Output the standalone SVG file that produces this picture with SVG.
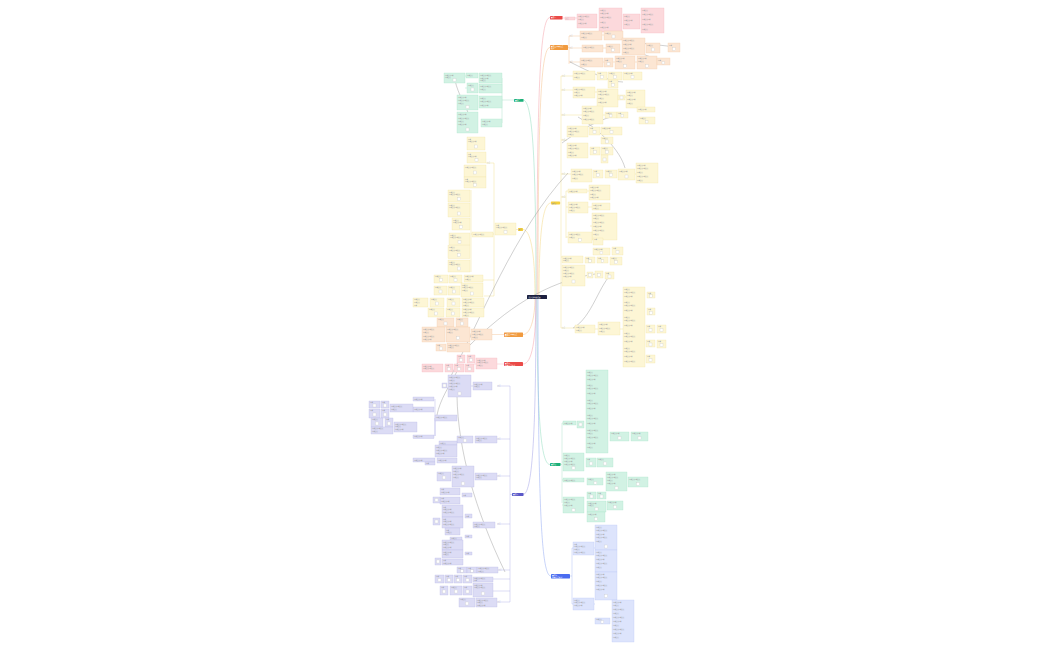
<svg xmlns="http://www.w3.org/2000/svg" width="1050" height="650" viewBox="0 0 1050 650">
<style>
.bg{fill:#fff}
rect{stroke-width:.3}
.r{fill:#fcd9dc;stroke:#f3b3ba}
.o{fill:#fce6d3;stroke:#f2c9a5}
.y{fill:#fdf6d5;stroke:#f0e0a0}
.g{fill:#d2f2e4;stroke:#a6e0c6}
.p{fill:#dcdcf5;stroke:#b5b5e4}
.b{fill:#dde4fc;stroke:#b6c4f4}
.ic{fill:#fff;stroke:#c8c8c8}
text{font-family:"Liberation Sans","Noto Sans CJK SC",sans-serif}
.t{font-size:1.4px;fill:#9a9a9a}
.w{font-size:1.7px;fill:#fff}
.lb{font-size:1.4px;fill:#9a9a9a}
.c{fill:none;stroke-width:.5}
.k{fill:none;stroke:#8a8a8a;stroke-width:.4}
.ty{fill:none;stroke:#f0da80;stroke-width:.4}
.tg{fill:none;stroke:#9fdcc0;stroke-width:.4}
.tr{fill:none;stroke:#f4a8b0;stroke-width:.4}
.to{fill:none;stroke:#f2be8c;stroke-width:.4}
.tp{fill:none;stroke:#a8a8e6;stroke-width:.4}
.tb{fill:none;stroke:#9fb2f2;stroke-width:.4}
</style>
<rect class="bg" width="1050" height="650"/>
<g id="connectors">
<path class="c" stroke="#f4a0a8" d="M537,297 C537,90 540,17.5 550,17.5"/>
<path class="c" stroke="#f5c08a" d="M538,297 C538,110 541,47.5 550,47.5"/>
<path class="c" stroke="#8fdcbc" d="M536,297 C536,150 532,100 523,100"/>
<path class="c" stroke="#f2d780" d="M539,297 C539,230 543,203 551,203"/>
<path class="c" stroke="#f2d780" d="M535,297 C535,250 530,229.5 523,229.5"/>
<path class="c" stroke="#f5c08a" d="M535,297 C535,320 530,334.5 523,334.5"/>
<path class="c" stroke="#f4a0a8" d="M536,297 C536,340 532,364 523,364"/>
<path class="c" stroke="#8fdcbc" d="M537,297 C537,420 541,464.5 550,464.5"/>
<path class="c" stroke="#a0a0e6" d="M536,297 C536,440 532,494.5 523,494.5"/>
<path class="c" stroke="#8fa6f2" d="M538,297 C538,520 542,576 551,576"/>
<path class="tr" d="M562,18 H577"/>
<path class="to" d="M568,47.5 H569 M569,36 V64 M569,36 H580 M569,48 H582 M569,62 H580 M602,35 H604 M603,48 H606 M603,62 H615 M635,62 H637"/>
<path class="ty" d="M561,76 V328 M560,203 H561 M561,76 H573 M561,90 H573 M561,115 H582 M561,140 H567 M561,174 H571 M561,197 H566 M566,191 V238 M566,191 H568 M566,207 H568 M566,237 H568 M561,257 H562 M561,328 H575 M595,329 H598 M620,329 H623 M595,92 H597 M618,97 H626 M603,115 H605 M587,191 H589 M588,207 H592 M592,226 H590 M635,174 H636"/>
<path class="tg" d="M514,100 H502 M502,78 V123 M502,100 H479 M502,123 H481 M466,76 H465 M467,88 H465"/>
<path class="ty" d="M518,229.5 H516 M494,163 V296 M494,163 H486 M494,234 H493 M471,190 V272 M471,234 H472 M494,280 H483 M494,296 H484"/>
<path class="to" d="M504,334.5 H492 M471,334 H470"/>
<path class="tr" d="M504,364 H497 M476,364 H474"/>
<path class="tp" d="M512,494.5 H510 M510,386 V602 M497,386 H510 M497,439 H510 M497,476 H510 M497,524 H510 M498,570 H510 M493,579 H510 M493,591 H510 M497,602 H510 M473,386 H471 M435,418 V436 M435,399 V436"/>
<path class="tg" d="M560,464.5 H562 M562,423 V503 M562,423 H563 M562,462 H563 M562,480 H563 M562,505 H563"/>
<path class="tb" d="M570,576 H572 M572,548 V604 M572,548 H573 M572,604 H573 M594,548 H595 M594,604 H595"/>
<path class="k" d="M450,378 C480,320 515,230 568,173"/>
<path class="k" d="M470,345 C505,310 545,282 595,274"/>
<path class="k" d="M573,328 C592,318 600,282 613,273"/>
<path class="k" d="M457,396 C458,450 475,510 505,572"/>
<path class="k" d="M460,366 C448,388 440,400 437,415"/>
<path class="k" d="M455,80 C458,95 466,105 470,118"/>
<path class="k" d="M617,38 C640,45 660,44 680,48"/>
<path class="k" d="M635,50 C650,58 660,60 670,62"/>
<path class="k" d="M570,62 C590,72 610,82 623,82"/>
<path class="k" d="M578,117 C600,130 620,150 625,168"/>
<path class="k" d="M562,143 C580,130 600,118 623,114"/>
</g>
<g id="central"><rect x="527" y="295" width="20" height="4" fill="#1c1f3f" rx=".5"/><text class="w" x="528.5" y="297.6">知识结构总览图</text></g>
<g id="br-red-top"><rect x="550" y="16" width="12.5" height="3.5" fill="#ea4a48" rx=".4"/><text class="w" x="551" y="18.4">章节一</text></g>
<g id="br-orange-top"><rect x="550" y="45" width="18" height="5" fill="#f19a3e" rx=".4"/><text class="w" x="551" y="47.2">章节二 内容要点</text><text class="w" x="551" y="49.2">概述</text></g>
<g id="br-green-top"><rect x="514" y="99" width="9.5" height="2.8" fill="#1bb07a" rx=".4"/><text class="w" x="515" y="100.9">章节三</text></g>
<g id="br-yellow-right"><rect x="551" y="201.5" width="9" height="3" fill="#f5cf3c" rx=".4"/><text class="t" x="552" y="203.5">章节四</text></g>
<g id="br-yellow-left"><rect x="518" y="228" width="5" height="3" fill="#f5cf3c" rx=".4"/><text class="t" x="518.5" y="230">章节</text></g>
<g id="br-orange-left"><rect x="504" y="332.5" width="19" height="4.5" fill="#f19a3e" rx=".4"/><text class="w" x="505" y="334.5">章节五 内容要点</text><text class="w" x="505" y="336.3">概述</text></g>
<g id="br-red-left"><rect x="504" y="362" width="19" height="4" fill="#ea4a48" rx=".4"/><text class="w" x="505" y="363.8">章节六</text><text class="w" x="505" y="365.6">内容要点概述</text></g>
<g id="br-green-right"><rect x="550" y="463" width="10.5" height="3" fill="#1bb07a" rx=".4"/><text class="w" x="551" y="465">章节七</text></g>
<g id="br-purple"><rect x="512" y="493" width="11.5" height="3" fill="#5a58c8" rx=".4"/><text class="w" x="513" y="495">章节八</text></g>
<g id="br-blue-right"><rect x="551" y="574" width="19" height="4.5" fill="#4a6cf0" rx=".4"/><text class="w" x="552" y="576">章节九</text><text class="w" x="552" y="577.9">内容要点概述</text></g>

<g id="red-top-nodes">
<g id="r1"><rect class="r" x="565" y="17" width="10" height="3"/><text class="t" x="565.5" y="19">要点</text></g>
<g id="r2"><rect class="r" x="577" y="14" width="20" height="14"/><text class="t" x="578" y="17">内容说明内容说明</text><text class="t" x="578" y="20">内容说明</text><text class="t" x="578" y="24">内容说明内容</text></g>
<g id="r3"><rect class="r" x="599" y="8" width="23" height="24"/><text class="t" x="600" y="11">内容说明</text><text class="t" x="600" y="14">内容说明内容</text><text class="t" x="600" y="18">内容说明内容说明</text><text class="t" x="600" y="23">内容说明</text><text class="t" x="600" y="28">内容说明内容</text></g>
<g id="r4"><rect class="r" x="623" y="14" width="17" height="15"/><text class="t" x="624" y="17">内容说明</text><text class="t" x="624" y="21">内容说明内容</text><text class="t" x="624" y="25">内容说明</text></g>
<g id="r5"><rect class="r" x="641" y="8" width="23" height="25"/><text class="t" x="642" y="11">内容说明</text><text class="t" x="642" y="15">内容说明内容说明</text><text class="t" x="642" y="20">内容说明内容</text><text class="t" x="642" y="25">内容说明内容说明</text><text class="t" x="642" y="30">内容说明</text></g>
</g>

<g id="orange-top-nodes">
<text class="lb" x="569.5" y="35.5">要点</text><text class="lb" x="569.5" y="47.5">要点</text><text class="lb" x="569.5" y="61.5">要点</text>
<g id="o1"><rect class="o" x="580" y="31" width="22" height="9"/><text class="t" x="581" y="34">内容说明内容说明</text><text class="t" x="581" y="37.5">内容说明</text></g>
<g id="o2"><rect class="o" x="604" y="31" width="19" height="9"/><text class="t" x="605" y="33.5">内容说明</text><rect class="ic" x="612" y="35" width="3" height="3"/></g>
<g id="o3"><rect class="o" x="622" y="38" width="23" height="17"/><text class="t" x="623" y="41">内容说明内容说明</text><text class="t" x="623" y="45">内容说明内容</text><text class="t" x="623" y="49">内容说明内容说明</text><text class="t" x="623" y="53">内容说明</text></g>
<g id="o4"><rect class="o" x="646" y="43" width="14" height="10"/><text class="t" x="647" y="45.5">内容说明</text><rect class="ic" x="651.5" y="48" width="3" height="3"/></g>
<g id="o5"><rect class="o" x="668" y="43" width="12" height="9"/><text class="t" x="669" y="45.5">内容</text><rect class="ic" x="672.5" y="47.5" width="3" height="3"/></g>
<g id="o6"><rect class="o" x="582" y="45" width="21" height="7"/><text class="t" x="583" y="48">内容说明内容说明</text></g>
<g id="o7"><rect class="o" x="606" y="44" width="14" height="9"/><text class="t" x="607" y="46.5">内容说明</text><rect class="ic" x="611.5" y="48.5" width="3" height="3"/></g>
<g id="o8"><rect class="o" x="580" y="58" width="23" height="9"/><text class="t" x="581" y="61">内容说明内容说明</text><text class="t" x="581" y="64.5">内容说明</text></g>
<g id="o9"><rect class="o" x="604" y="58" width="9" height="9"/><text class="t" x="605" y="60.5">内容</text><rect class="ic" x="607" y="62.5" width="3" height="3"/></g>
<g id="o10"><rect class="o" x="615" y="56" width="20" height="13"/><text class="t" x="616" y="59">内容说明内容</text><text class="t" x="616" y="62">内容说明</text><rect class="ic" x="623.5" y="64.5" width="3" height="3"/></g>
<g id="o11"><rect class="o" x="637" y="56" width="20" height="13"/><text class="t" x="638" y="59">内容说明内容</text><text class="t" x="638" y="62">内容说明</text><rect class="ic" x="645.5" y="64.5" width="3" height="3"/></g>
<g id="o12"><rect class="o" x="657" y="58" width="13" height="7"/><text class="t" x="658" y="60.5">内容</text><rect class="ic" x="662" y="61.5" width="2.5" height="2.5"/></g>
</g>

<g id="yellow-right-nodes">
<text class="lb" x="562" y="75.5">要点</text><text class="lb" x="562" y="89.5">要点</text><text class="lb" x="562" y="114.5">要点</text><text class="lb" x="562" y="139.5">要点</text><text class="lb" x="562" y="173.5">要点</text><text class="lb" x="562" y="196.5">要点</text><text class="lb" x="562" y="327.5">要点</text>
<g id="y1"><rect class="y" x="573" y="71" width="22" height="9"/><text class="t" x="574" y="74">内容说明内容说明</text><text class="t" x="574" y="77.5">内容说明</text></g>
<g id="y2"><rect class="y" x="597" y="72" width="10" height="8"/><text class="t" x="598" y="74.3">内容</text><rect class="ic" x="600.5" y="75.5" width="3" height="3"/></g>
<g id="y3"><rect class="y" x="608" y="72" width="14" height="8"/><text class="t" x="609" y="74.3">内容说明</text><rect class="ic" x="613.5" y="75.5" width="3" height="3"/></g>
<g id="y4"><rect class="y" x="623" y="72" width="19" height="8"/><text class="t" x="624" y="74.3">内容说明内容</text><rect class="ic" x="631" y="75.5" width="3" height="3"/></g>
<g id="y5"><rect class="y" x="573" y="87" width="22" height="11"/><text class="t" x="574" y="90">内容说明内容说明</text><text class="t" x="574" y="93">内容说明</text><text class="t" x="574" y="96">内容说明内容</text></g>
<g id="y6"><rect class="y" x="608" y="80" width="10" height="8"/><text class="t" x="609" y="82.3">内容</text><rect class="ic" x="611.5" y="83.5" width="3" height="3"/></g>
<g id="y7"><rect class="y" x="597" y="89" width="21" height="18"/><text class="t" x="598" y="92">内容说明内容</text><text class="t" x="598" y="95">内容说明内容说明</text><text class="t" x="598" y="99">内容说明</text><text class="t" x="598" y="103">内容说明内容</text></g>
<g id="y8"><rect class="y" x="618" y="95" width="7" height="5"/><rect class="ic" x="620" y="96" width="3" height="3"/></g>
<g id="y9"><rect class="y" x="626" y="90" width="19" height="18"/><text class="t" x="627" y="93">内容说明内容</text><text class="t" x="627" y="96">内容说明</text><text class="t" x="627" y="100">内容说明内容</text><text class="t" x="627" y="104">内容说明</text></g>
<g id="y10"><rect class="y" x="582" y="106" width="21" height="18"/><text class="t" x="583" y="109">内容说明内容</text><text class="t" x="583" y="112">内容说明内容说明</text><text class="t" x="583" y="116">内容说明</text><text class="t" x="583" y="120">内容说明内容说明</text></g>
<g id="y11"><rect class="y" x="605" y="112" width="12" height="6"/><text class="t" x="606" y="114">内容说明</text><rect class="ic" x="609.5" y="114.5" width="2.5" height="2.5"/></g>
<g id="y12"><rect class="y" x="617" y="112" width="11" height="6"/><text class="t" x="618" y="114">内容</text><rect class="ic" x="621" y="114.5" width="2.5" height="2.5"/></g>
<g id="y13"><rect class="y" x="637" y="107" width="18" height="5"/><text class="t" x="638" y="110">内容说明内容</text></g>
<g id="y14"><rect class="y" x="639" y="117" width="16" height="7"/><text class="t" x="640" y="119.3">内容说明</text><rect class="ic" x="645.5" y="120.5" width="2.5" height="2.5"/></g>
<g id="y15"><rect class="y" x="567" y="126" width="21" height="11"/><text class="t" x="568" y="129">内容说明内容</text><text class="t" x="568" y="132">内容说明内容说明</text><text class="t" x="568" y="135">内容说明</text></g>
<g id="y16"><rect class="y" x="589" y="127" width="11" height="8"/><text class="t" x="590" y="129.3">内容</text><rect class="ic" x="593" y="130.5" width="3" height="3"/></g>
<g id="y17"><rect class="y" x="601" y="127" width="21" height="8"/><text class="t" x="602" y="129.3">内容说明内容</text><rect class="ic" x="610" y="130.5" width="3" height="3"/></g>
<g id="y18"><rect class="y" x="567" y="143" width="21" height="15"/><text class="t" x="568" y="146">内容说明内容</text><text class="t" x="568" y="149">内容说明内容说明</text><text class="t" x="568" y="153">内容说明</text><text class="t" x="568" y="156">内容说明内容</text></g>
<g id="y19"><rect class="y" x="590" y="147" width="10" height="8"/><text class="t" x="591" y="149.3">内容</text><rect class="ic" x="593.5" y="150.5" width="3" height="3"/></g>
<g id="y20"><rect class="y" x="601" y="137" width="12" height="7"/><text class="t" x="602" y="139.3">内容说明</text><rect class="ic" x="605.5" y="140" width="3" height="3"/></g>
<g id="y21"><rect class="y" x="601" y="147" width="12" height="8"/><text class="t" x="602" y="149.3">内容说明</text><rect class="ic" x="605.5" y="150.5" width="3" height="3"/></g>
<g id="y22"><rect class="y" x="601" y="155" width="7" height="8"/><rect class="ic" x="603" y="158" width="3" height="3"/></g>
<g id="y23"><rect class="y" x="571" y="169" width="21" height="13"/><text class="t" x="572" y="172">内容说明内容</text><text class="t" x="572" y="175">内容说明内容说明</text><text class="t" x="572" y="179">内容说明</text></g>
<g id="y24"><rect class="y" x="593" y="170" width="10" height="8"/><text class="t" x="594" y="172.3">内容</text><rect class="ic" x="596.5" y="173.5" width="3" height="3"/></g>
<g id="y25"><rect class="y" x="605" y="170" width="12" height="8"/><text class="t" x="606" y="172.3">内容说明</text><rect class="ic" x="609.5" y="173.5" width="3" height="3"/></g>
<g id="y26"><rect class="y" x="618" y="169" width="17" height="11"/><text class="t" x="619" y="171.5">内容说明内容</text><rect class="ic" x="625" y="175" width="3" height="3"/></g>
<g id="y27"><rect class="y" x="636" y="163" width="22" height="20"/><text class="t" x="637" y="166">内容说明内容</text><text class="t" x="637" y="169">内容说明内容说明</text><text class="t" x="637" y="173">内容说明</text><text class="t" x="637" y="177">内容说明内容说明</text><text class="t" x="637" y="181">内容说明</text></g>
<g id="y28"><rect class="y" x="568" y="189" width="19" height="4"/><text class="t" x="569" y="191.7">内容说明内容</text></g>
<g id="y29"><rect class="y" x="589" y="185" width="21" height="15"/><text class="t" x="590" y="188">内容说明内容</text><text class="t" x="590" y="191">内容说明内容说明</text><text class="t" x="590" y="195">内容说明</text><text class="t" x="590" y="198">内容说明内容</text></g>
<g id="y30"><rect class="y" x="568" y="202" width="20" height="11"/><text class="t" x="569" y="205">内容说明内容</text><text class="t" x="569" y="208">内容说明内容说明</text><text class="t" x="569" y="211">内容说明</text></g>
<g id="y31"><rect class="y" x="592" y="203" width="18" height="7"/><text class="t" x="593" y="206">内容说明内容</text><text class="t" x="593" y="208.5">内容说明</text></g>
<g id="y32"><rect class="y" x="592" y="213" width="25" height="27"/><text class="t" x="593" y="216">内容说明内容说明</text><text class="t" x="593" y="219">内容说明</text><text class="t" x="593" y="223">内容说明内容说明</text><text class="t" x="593" y="227">内容说明内容</text><text class="t" x="593" y="231">内容说明内容说明</text><text class="t" x="593" y="235">内容说明</text></g>
<g id="y33"><rect class="y" x="568" y="232" width="24" height="11"/><text class="t" x="569" y="235">内容说明内容说明</text><text class="t" x="569" y="237.5">内容说明</text><rect class="ic" x="578.5" y="238.5" width="3" height="3"/></g>
<g id="y34"><rect class="y" x="593" y="238" width="10" height="7"/><text class="t" x="594" y="240.3">内容</text></g>
<g id="y35"><rect class="y" x="593" y="248" width="17" height="7"/><text class="t" x="594" y="250.3">内容说明内容</text><rect class="ic" x="600" y="251.3" width="2.7" height="2.7"/></g>
<g id="y36"><rect class="y" x="612" y="247" width="11" height="8"/><text class="t" x="613" y="249.3">内容</text><rect class="ic" x="616" y="250.5" width="3" height="3"/></g>
<g id="y37"><rect class="y" x="562" y="256" width="21" height="7"/><text class="t" x="563" y="258.5">内容说明内容</text><text class="t" x="563" y="261.3">内容说明</text></g>
<g id="y38"><rect class="y" x="585" y="257" width="10" height="6"/><text class="t" x="586" y="259.2">内容</text><rect class="ic" x="588.7" y="259.8" width="2.5" height="2.5"/></g>
<g id="y39"><rect class="y" x="597" y="257" width="11" height="6"/><text class="t" x="598" y="259.2">内容</text><rect class="ic" x="601.2" y="259.8" width="2.5" height="2.5"/></g>
<g id="y40"><rect class="y" x="610" y="257" width="12" height="8"/><text class="t" x="611" y="259.3">内容说明</text><rect class="ic" x="614.5" y="260.8" width="3" height="3"/></g>
<g id="y41"><rect class="y" x="562" y="265" width="23" height="21"/><text class="t" x="563" y="268">内容说明内容说明</text><text class="t" x="563" y="271">内容说明</text><text class="t" x="563" y="274">内容说明内容说明</text><text class="t" x="563" y="277">内容说明内容</text><rect class="ic" x="572" y="280" width="3" height="3"/></g>
<g id="y42"><rect class="y" x="587" y="272" width="6" height="6"/><rect class="ic" x="588.5" y="273.5" width="3" height="3"/></g>
<g id="y43"><rect class="y" x="595" y="271" width="8" height="7"/><rect class="ic" x="597.5" y="273.5" width="3" height="3"/></g>
<g id="y44"><rect class="y" x="605" y="272" width="9" height="7"/><text class="t" x="606" y="274">内容</text><rect class="ic" x="608" y="275" width="3" height="3"/></g>
<g id="y45"><rect class="y" x="575" y="325" width="20" height="8"/><text class="t" x="576" y="328">内容说明内容</text><text class="t" x="576" y="331">内容说明</text></g>
<g id="y46"><rect class="y" x="598" y="322" width="22" height="13"/><text class="t" x="599" y="325">内容说明内容</text><text class="t" x="599" y="328.5">内容说明内容说明</text><text class="t" x="599" y="332">内容说明</text></g>
<g id="y47"><rect class="y" x="623" y="287" width="22" height="80"/><text class="t" x="624" y="290">内容说明</text><text class="t" x="624" y="293">内容说明内容说明</text><text class="t" x="624" y="297">内容说明内容</text><text class="t" x="624" y="303">内容说明</text><text class="t" x="624" y="306">内容说明内容说明</text><text class="t" x="624" y="311">内容说明内容</text><text class="t" x="624" y="318">内容说明</text><text class="t" x="624" y="321">内容说明内容说明</text><text class="t" x="624" y="326">内容说明内容</text><text class="t" x="624" y="334">内容说明</text><text class="t" x="624" y="337">内容说明内容说明</text><text class="t" x="624" y="342">内容说明内容</text><text class="t" x="624" y="349">内容说明</text><text class="t" x="624" y="352">内容说明内容说明</text><text class="t" x="624" y="357">内容说明内容</text><text class="t" x="624" y="362">内容说明内容说明</text></g>
<g id="y48"><rect class="y" x="647" y="292" width="8" height="6"/><text class="t" x="648" y="294">内容</text><rect class="ic" x="649.7" y="294.8" width="2.5" height="2.5"/></g>
<g id="y49"><rect class="y" x="647" y="308" width="8" height="7"/><text class="t" x="648" y="310">内容</text><rect class="ic" x="649.5" y="311.3" width="3" height="3"/></g>
<g id="y50"><rect class="y" x="646" y="325" width="9" height="8"/><text class="t" x="647" y="327">内容</text><rect class="ic" x="649" y="328.5" width="3" height="3"/></g>
<g id="y51"><rect class="y" x="657" y="325" width="9" height="8"/><text class="t" x="658" y="327">内容</text><rect class="ic" x="660" y="328.5" width="3" height="3"/></g>
<g id="y52"><rect class="y" x="646" y="340" width="9" height="7"/><text class="t" x="647" y="342">内容</text><rect class="ic" x="649" y="343" width="3" height="3"/></g>
<g id="y53"><rect class="y" x="657" y="340" width="9" height="8"/><text class="t" x="658" y="342">内容</text><rect class="ic" x="660" y="343.5" width="3" height="3"/></g>
<g id="y54"><rect class="y" x="646" y="355" width="9" height="8"/><text class="t" x="647" y="357">内容</text><rect class="ic" x="649" y="358.5" width="3" height="3"/></g>
</g>

<g id="green-top-nodes">
<g id="g1"><rect class="g" x="444" y="73" width="21" height="10"/><text class="t" x="445" y="75.5">内容说明内容</text><text class="t" x="445" y="78">内容说明</text><rect class="ic" x="453" y="78.5" width="3" height="3"/></g>
<g id="g2"><rect class="g" x="466" y="73" width="12" height="5"/><text class="t" x="467" y="75.5">内容说明</text></g>
<g id="g3"><rect class="g" x="467" y="83" width="11" height="10"/><text class="t" x="468" y="85.5">内容说明</text><rect class="ic" x="471" y="88" width="3" height="3"/></g>
<g id="g4"><rect class="g" x="479" y="73" width="23" height="10"/><text class="t" x="480" y="75.5">内容说明内容说明</text><text class="t" x="480" y="78.5">内容说明内容</text><text class="t" x="480" y="81.3">内容说明</text></g>
<g id="g5"><rect class="g" x="479" y="84" width="23" height="9"/><text class="t" x="480" y="86.5">内容说明内容说明</text><text class="t" x="480" y="89.5">内容说明</text></g>
<g id="g6"><rect class="g" x="457" y="95" width="21" height="15"/><text class="t" x="458" y="98">内容说明内容</text><text class="t" x="458" y="101">内容说明内容说明</text><text class="t" x="458" y="104">内容说明</text><rect class="ic" x="466" y="105.5" width="3" height="3"/></g>
<g id="g7"><rect class="g" x="479" y="96" width="23" height="12"/><text class="t" x="480" y="99">内容说明</text><text class="t" x="480" y="102">内容说明内容说明</text><text class="t" x="480" y="105.5">内容说明内容</text></g>
<g id="g8"><rect class="g" x="457" y="112" width="21" height="21"/><text class="t" x="458" y="115">内容说明内容</text><text class="t" x="458" y="118.5">内容说明内容说明</text><text class="t" x="458" y="122">内容说明</text><text class="t" x="458" y="125">内容说明内容</text><rect class="ic" x="466" y="128" width="3" height="3"/></g>
<g id="g9"><rect class="g" x="481" y="119" width="21" height="8"/><text class="t" x="482" y="121.5">内容说明内容</text><text class="t" x="482" y="124.5">内容说明</text></g>
</g>

<g id="yellow-left-nodes">
<text class="lb" x="487" y="162.5">要点</text>
<g id="a1"><rect class="y" x="467" y="137" width="18" height="13"/><text class="t" x="468" y="139.5">内容</text><text class="t" x="468" y="142">内容说明内容</text><rect class="ic" x="474.5" y="145" width="3" height="3"/></g>
<g id="a2"><rect class="y" x="467" y="152" width="19" height="11"/><text class="t" x="468" y="154.5">内容</text><text class="t" x="468" y="157">内容说明内容</text><rect class="ic" x="475" y="158.5" width="3" height="3"/></g>
<g id="a3"><rect class="y" x="464" y="165" width="22" height="12"/><text class="t" x="465" y="167.5">内容说明内容说明</text><rect class="ic" x="473.5" y="171" width="3" height="3"/></g>
<g id="a4"><rect class="y" x="464" y="177" width="22" height="11"/><text class="t" x="465" y="179.5">内容</text><text class="t" x="465" y="182">内容说明内容说明</text><rect class="ic" x="473.5" y="183.5" width="3" height="3"/></g>
<g id="b1"><rect class="y" x="448" y="190" width="22" height="12"/><text class="t" x="449" y="192.5">内容说明</text><text class="t" x="449" y="195">内容说明内容说明</text><rect class="ic" x="457.5" y="197.5" width="3" height="3"/></g>
<g id="b2"><rect class="y" x="448" y="203" width="22" height="14"/><text class="t" x="449" y="205.5">内容说明</text><text class="t" x="449" y="208">内容说明内容说明</text><rect class="ic" x="457.5" y="212" width="3" height="3"/></g>
<g id="b3"><rect class="y" x="452" y="218" width="18" height="12"/><text class="t" x="453" y="220.5">内容说明</text><text class="t" x="453" y="223">内容说明内容</text><rect class="ic" x="459.5" y="225.5" width="3" height="3"/></g>
<g id="b4"><rect class="y" x="449" y="233" width="21" height="12"/><text class="t" x="450" y="235.5">内容说明</text><text class="t" x="450" y="238">内容说明内容说明</text><rect class="ic" x="458" y="240.5" width="3" height="3"/></g>
<g id="b5"><rect class="y" x="448" y="245.5" width="22" height="13"/><text class="t" x="449" y="248">内容说明</text><text class="t" x="449" y="250.5">内容说明内容说明</text><rect class="ic" x="457.5" y="253.5" width="3" height="3"/></g>
<g id="b6"><rect class="y" x="448" y="260" width="22" height="12"/><text class="t" x="449" y="262.5">内容说明</text><text class="t" x="449" y="265">内容说明内容说明</text><rect class="ic" x="457.5" y="267" width="3" height="3"/></g>
<g id="lbm"><rect class="y" x="472" y="232" width="21" height="5"/><text class="t" x="473" y="234.5">内容说明内容说明</text></g>
<g id="c1"><rect class="y" x="495" y="223" width="21" height="12"/><text class="t" x="496" y="225.5">内容</text><text class="t" x="496" y="228">内容说明内容说明</text><rect class="ic" x="504" y="230.5" width="3" height="3"/></g>
<g id="d1"><rect class="y" x="434" y="275" width="14" height="8"/><text class="t" x="435" y="277.3">内容说明</text><rect class="ic" x="439.5" y="278.5" width="3" height="3"/></g>
<g id="d2"><rect class="y" x="449" y="275" width="13" height="8"/><text class="t" x="450" y="277.3">内容说明</text><rect class="ic" x="454" y="278.5" width="3" height="3"/></g>
<g id="d3"><rect class="y" x="464" y="275" width="19" height="7"/><text class="t" x="465" y="277.3">内容说明内容</text><text class="t" x="465" y="280">内容说明</text></g>
<g id="d4"><rect class="y" x="434" y="286" width="13" height="9"/><text class="t" x="435" y="288.3">内容说明</text><rect class="ic" x="439" y="290" width="3" height="3"/></g>
<g id="d5"><rect class="y" x="448" y="286" width="12" height="9"/><text class="t" x="449" y="288.3">内容说明</text><rect class="ic" x="452.5" y="290" width="3" height="3"/></g>
<g id="d6"><rect class="y" x="461" y="283" width="22" height="14"/><text class="t" x="462" y="285.5">内容说明</text><text class="t" x="462" y="288">内容说明内容说明</text><text class="t" x="462" y="290.5">内容说明</text><rect class="ic" x="470.5" y="292" width="3" height="3"/></g>
<g id="e1"><rect class="y" x="413" y="298" width="15" height="9"/><text class="t" x="414" y="300.3">内容说明</text><text class="t" x="414" y="303">内容说明</text><text class="t" x="414" y="305.5">内容</text></g>
<g id="e2"><rect class="y" x="430" y="298" width="14" height="9"/><text class="t" x="431" y="300.3">内容说明</text><rect class="ic" x="435.5" y="302" width="3" height="3"/></g>
<g id="e3"><rect class="y" x="447" y="298" width="13" height="9"/><text class="t" x="448" y="300.3">内容说明</text><rect class="ic" x="452" y="302" width="3" height="3"/></g>
<g id="e4"><rect class="y" x="462" y="298" width="22" height="9"/><text class="t" x="463" y="300.3">内容说明内容</text><text class="t" x="463" y="303">内容说明内容说明</text><text class="t" x="463" y="305.6">内容说明</text></g>
<g id="e5"><rect class="y" x="428" y="308" width="16" height="9"/><text class="t" x="429" y="310.3">内容说明</text><rect class="ic" x="434.5" y="312" width="3" height="3"/></g>
<g id="e6"><rect class="y" x="446" y="308" width="14" height="9"/><text class="t" x="447" y="310.3">内容说明</text><rect class="ic" x="451.5" y="312" width="3" height="3"/></g>
<g id="e7"><rect class="y" x="462" y="308" width="22" height="9"/><text class="t" x="463" y="310.3">内容说明内容</text><text class="t" x="463" y="313">内容说明内容说明</text><text class="t" x="463" y="315.6">内容说明</text></g>
</g>

<g id="orange-left-nodes">
<g id="f1"><rect class="o" x="437" y="318" width="17" height="9"/><text class="t" x="438" y="320.3">内容说明</text><rect class="ic" x="444" y="322" width="3" height="3"/></g>
<g id="f2"><rect class="o" x="456" y="318" width="12" height="9"/><text class="t" x="457" y="320.3">内容说明</text><rect class="ic" x="460.5" y="322" width="3" height="3"/></g>
<g id="f3"><rect class="o" x="422" y="327" width="23" height="15"/><text class="t" x="423" y="330">内容说明内容说明</text><text class="t" x="423" y="333">内容说明</text><text class="t" x="423" y="336.5">内容说明内容说明</text><text class="t" x="423" y="340">内容说明内容</text></g>
<g id="f4"><rect class="o" x="446" y="327" width="24" height="15"/><text class="t" x="447" y="330">内容说明内容说明</text><text class="t" x="447" y="333">内容说明</text><rect class="ic" x="456.5" y="336.5" width="3" height="3"/></g>
<g id="f5"><rect class="o" x="471" y="329" width="21" height="11"/><text class="t" x="472" y="332">内容说明内容</text><text class="t" x="472" y="335">内容说明内容说明</text><text class="t" x="472" y="338">内容说明</text></g>
<g id="f6"><rect class="o" x="436" y="344" width="10" height="7"/><text class="t" x="437" y="346.3">内容</text><rect class="ic" x="439.5" y="347" width="3" height="3"/></g>
<g id="f7"><rect class="o" x="447" y="343" width="23" height="9"/><text class="t" x="448" y="345.5">内容说明内容说明</text><text class="t" x="448" y="348.3">内容说明</text></g>
</g>

<g id="red-left-nodes">
<g id="h1"><rect class="r" x="457" y="355" width="8" height="8"/><text class="t" x="458" y="357.2">内容</text><rect class="ic" x="459.5" y="358.5" width="3" height="3"/></g>
<g id="h2"><rect class="r" x="467" y="355" width="8" height="8"/><text class="t" x="468" y="357.2">内容</text><rect class="ic" x="469.5" y="358.5" width="3" height="3"/></g>
<g id="h3"><rect class="r" x="476" y="358" width="21" height="11"/><text class="t" x="477" y="360.5">内容说明内容</text><text class="t" x="477" y="363.3">内容说明内容说明</text><text class="t" x="477" y="366.3">内容说明</text></g>
<g id="h4"><rect class="r" x="422" y="364" width="21" height="8"/><text class="t" x="423" y="366.5">内容说明内容</text><text class="t" x="423" y="369.3">内容说明内容说明</text></g>
<g id="h5"><rect class="r" x="445" y="364" width="8" height="8"/><text class="t" x="446" y="366.2">内容</text><rect class="ic" x="447.5" y="367.5" width="3" height="3"/></g>
<g id="h6"><rect class="r" x="454" y="364" width="10" height="8"/><text class="t" x="455" y="366.2">内容</text><rect class="ic" x="457.5" y="367.5" width="3" height="3"/></g>
<g id="h7"><rect class="r" x="465" y="364" width="9" height="8"/><text class="t" x="466" y="366.2">内容</text><rect class="ic" x="468" y="367.5" width="3" height="3"/></g>
</g>

<g id="purple-nodes">
<text class="lb" x="497.5" y="385.5">要点</text><text class="lb" x="497.5" y="438.5">要点</text><text class="lb" x="497.5" y="475.5">要点</text><text class="lb" x="497.5" y="523.5">要点</text><text class="lb" x="498.5" y="569.5">要点</text><text class="lb" x="497.5" y="601.5">要点</text>
<g id="p1"><rect class="p" x="448" y="375" width="23" height="22"/><text class="t" x="449" y="378">内容说明内容说明</text><text class="t" x="449" y="381">内容说明</text><text class="t" x="449" y="384">内容说明内容说明</text><text class="t" x="449" y="387">内容说明内容</text><text class="t" x="449" y="390">内容说明</text><rect class="ic" x="458" y="392" width="3" height="3"/></g>
<g id="p2"><rect class="p" x="442" y="383" width="5" height="5"/><rect class="ic" x="443" y="384" width="3" height="3"/></g>
<g id="p3"><rect class="p" x="473" y="382" width="19" height="8"/><text class="t" x="474" y="384.5">内容说明内容</text><text class="t" x="474" y="387.3">内容说明</text></g>
<g id="p4"><rect class="p" x="413" y="397" width="21" height="4"/><text class="t" x="414" y="399.6">内容说明内容</text></g>
<g id="p5"><rect class="p" x="413" y="407" width="21" height="5"/><text class="t" x="414" y="409.8">内容说明内容</text></g>
<g id="p6"><rect class="p" x="435" y="415" width="22" height="6"/><text class="t" x="436" y="417.5">内容说明内容说明</text></g>
<g id="p7"><rect class="p" x="413" y="435" width="21" height="3.5"/><text class="t" x="414" y="437.3">内容说明内容</text></g>
<g id="p8"><rect class="p" x="369" y="401" width="11" height="7"/><text class="t" x="370" y="403">内容</text><rect class="ic" x="373" y="404" width="3" height="3"/></g>
<g id="p9"><rect class="p" x="381" y="401" width="8" height="7"/><text class="t" x="382" y="403">内容</text><rect class="ic" x="383.5" y="404" width="3" height="3"/></g>
<g id="p10"><rect class="p" x="390" y="404" width="23" height="8"/><text class="t" x="391" y="406.5">内容说明内容说明</text><text class="t" x="391" y="409.5">内容说明</text></g>
<g id="p11"><rect class="p" x="369" y="409" width="11" height="9"/><text class="t" x="370" y="411">内容</text><rect class="ic" x="373" y="413" width="3" height="3"/></g>
<g id="p12"><rect class="p" x="381" y="409" width="8" height="9"/><text class="t" x="382" y="411">内容</text><rect class="ic" x="383.5" y="413" width="3" height="3"/></g>
<g id="p13"><rect class="p" x="371" y="418" width="12" height="9"/><text class="t" x="372" y="420">内容说明</text><rect class="ic" x="375.5" y="422" width="3" height="3"/></g>
<g id="p14"><rect class="p" x="385" y="418" width="8" height="9"/><text class="t" x="386" y="420">内容</text><rect class="ic" x="387.5" y="422" width="3" height="3"/></g>
<g id="p15"><rect class="p" x="371" y="427" width="22" height="7"/><text class="t" x="372" y="429.3">内容说明内容说明</text><text class="t" x="372" y="432">内容说明</text></g>
<g id="p16"><rect class="p" x="394" y="422" width="23" height="10"/><text class="t" x="395" y="424.5">内容说明内容说明</text><text class="t" x="395" y="427.3">内容说明</text><text class="t" x="395" y="430">内容说明内容</text></g>
<g id="p17"><rect class="p" x="457" y="436" width="16" height="7"/><text class="t" x="458" y="438.3">内容说明</text><rect class="ic" x="463.5" y="439" width="3" height="3"/></g>
<g id="p18"><rect class="p" x="475" y="436" width="22" height="7"/><text class="t" x="476" y="438.5">内容说明内容说明</text><text class="t" x="476" y="441.2">内容说明</text></g>
<g id="p19"><rect class="p" x="439" y="441" width="18" height="4"/><text class="t" x="440" y="443.6">内容说明</text></g>
<g id="p20"><rect class="p" x="435" y="445" width="22" height="12"/><text class="t" x="436" y="448">内容说明</text><text class="t" x="436" y="451">内容说明内容说明</text><text class="t" x="436" y="454">内容说明内容</text></g>
<g id="p21"><rect class="p" x="413" y="458" width="22" height="4"/><text class="t" x="414" y="460.6">内容说明内容</text></g>
<g id="p22"><rect class="p" x="425" y="462" width="10" height="3"/><text class="t" x="426" y="464">内容</text></g>
<g id="p23"><rect class="p" x="437" y="458" width="20" height="5"/><text class="t" x="438" y="460.8">内容说明内容</text></g>
<g id="p24"><rect class="p" x="437" y="472" width="14" height="9"/><text class="t" x="438" y="474.3">内容说明</text><rect class="ic" x="442.5" y="476" width="3" height="3"/></g>
<g id="p25"><rect class="p" x="452" y="466" width="22" height="21"/><text class="t" x="453" y="469">内容说明内容</text><text class="t" x="453" y="472">内容说明</text><text class="t" x="453" y="475">内容说明内容说明</text><text class="t" x="453" y="478">内容说明</text><rect class="ic" x="461.5" y="482" width="3" height="3"/></g>
<g id="p26"><rect class="p" x="475" y="473" width="22" height="7"/><text class="t" x="476" y="475.5">内容说明内容说明</text><text class="t" x="476" y="478.2">内容说明</text></g>
<g id="p27"><rect class="p" x="440" y="488" width="20" height="7"/><text class="t" x="441" y="490.3">内容</text><text class="t" x="441" y="493">内容说明内容</text></g>
<g id="p28"><rect class="p" x="440" y="497" width="20" height="7"/><text class="t" x="441" y="499.3">内容</text><text class="t" x="441" y="502">内容说明内容</text></g>
<g id="p29"><rect class="p" x="433" y="497" width="7" height="6"/><rect class="ic" x="435" y="498.5" width="3" height="3"/></g>
<g id="p30"><rect class="p" x="462" y="493" width="10" height="4"/><text class="t" x="463" y="495.5">内容</text></g>
<g id="p31"><rect class="p" x="442" y="505" width="21" height="12"/><text class="t" x="443" y="507.5">内容</text><text class="t" x="443" y="510">内容说明内容</text><text class="t" x="443" y="513">内容说明内容说明</text></g>
<g id="p32"><rect class="p" x="442" y="517" width="21" height="11"/><text class="t" x="443" y="519.5">内容</text><text class="t" x="443" y="522">内容说明内容</text><text class="t" x="443" y="525">内容说明内容说明</text></g>
<g id="p33"><rect class="p" x="433" y="518" width="7" height="7"/><rect class="ic" x="435" y="520" width="3" height="3"/></g>
<g id="p34"><rect class="p" x="445" y="528" width="15" height="7"/><text class="t" x="446" y="530.5">内容</text><text class="t" x="446" y="533">内容说明</text></g>
<g id="p35"><rect class="p" x="450" y="537" width="12" height="3"/><text class="t" x="451" y="539">内容说明</text></g>
<g id="p36"><rect class="p" x="465" y="514" width="7" height="4"/><text class="t" x="466" y="516.5">内容</text></g>
<g id="p37"><rect class="p" x="473" y="522" width="22" height="6"/><text class="t" x="474" y="524.5">内容说明内容说明</text><text class="t" x="474" y="527">内容说明</text></g>
<g id="p38"><rect class="p" x="442" y="540" width="21" height="10"/><text class="t" x="443" y="542.5">内容说明内容说明</text><text class="t" x="443" y="545.3">内容说明</text><text class="t" x="443" y="548">内容说明内容</text></g>
<g id="p39"><rect class="p" x="442" y="550" width="21" height="8"/><text class="t" x="443" y="552.5">内容说明内容</text><text class="t" x="443" y="555.3">内容说明</text></g>
<g id="p40"><rect class="p" x="442" y="559" width="21" height="6"/><text class="t" x="443" y="561.3">内容</text><text class="t" x="443" y="563.6">内容说明内容</text></g>
<g id="p41"><rect class="p" x="435" y="558" width="6" height="7"/><rect class="ic" x="436.5" y="560" width="3" height="3"/></g>
<g id="p42"><rect class="p" x="465" y="535" width="7" height="3"/><text class="t" x="466" y="537">内容</text></g>
<g id="p43"><rect class="p" x="465" y="552" width="7" height="3"/><text class="t" x="466" y="554">内容</text></g>
<g id="p44"><rect class="p" x="457" y="567" width="10" height="6"/><text class="t" x="458" y="569">内容</text><rect class="ic" x="460.7" y="569.8" width="2.5" height="2.5"/></g>
<g id="p45"><rect class="p" x="467" y="567" width="10" height="6"/><text class="t" x="468" y="569">内容</text><rect class="ic" x="470.7" y="569.8" width="2.5" height="2.5"/></g>
<g id="p46"><rect class="p" x="477" y="567" width="21" height="6"/><text class="t" x="478" y="569.3">内容说明内容说明</text><text class="t" x="478" y="571.8">内容说明</text></g>
<g id="p47"><rect class="p" x="435" y="575" width="9" height="8"/><text class="t" x="436" y="577.2">内容</text><rect class="ic" x="438" y="578.5" width="3" height="3"/></g>
<g id="p48"><rect class="p" x="445" y="575" width="8" height="8"/><text class="t" x="446" y="577.2">内容</text><rect class="ic" x="447.5" y="578.5" width="3" height="3"/></g>
<g id="p49"><rect class="p" x="454" y="575" width="8" height="8"/><text class="t" x="455" y="577.2">内容</text><rect class="ic" x="456.5" y="578.5" width="3" height="3"/></g>
<g id="p50"><rect class="p" x="463" y="575" width="9" height="8"/><text class="t" x="464" y="577.2">内容</text><rect class="ic" x="466" y="578.5" width="3" height="3"/></g>
<g id="p51"><rect class="p" x="473" y="577" width="20" height="5"/><text class="t" x="474" y="579.3">内容说明内容说明</text><text class="t" x="474" y="581.3">内容</text></g>
<g id="p52"><rect class="p" x="440" y="586" width="8" height="9"/><text class="t" x="441" y="588.2">内容</text><rect class="ic" x="442.5" y="590" width="3" height="3"/></g>
<g id="p53"><rect class="p" x="450" y="586" width="12" height="9"/><text class="t" x="451" y="588.2">内容说明</text><rect class="ic" x="454.5" y="590" width="3" height="3"/></g>
<g id="p54"><rect class="p" x="463" y="586" width="9" height="9"/><text class="t" x="464" y="588.2">内容</text><rect class="ic" x="466" y="590" width="3" height="3"/></g>
<g id="p55"><rect class="p" x="473" y="583" width="20" height="14"/><text class="t" x="474" y="585.5">内容说明内容</text><text class="t" x="474" y="588.3">内容说明内容说明</text><rect class="ic" x="481.5" y="592" width="3" height="3"/></g>
<g id="p56"><rect class="p" x="459" y="598" width="16" height="9"/><text class="t" x="460" y="600.3">内容说明</text><rect class="ic" x="465.5" y="602" width="3" height="3"/></g>
<g id="p57"><rect class="p" x="476" y="598" width="21" height="9"/><text class="t" x="477" y="600.5">内容说明内容说明</text><text class="t" x="477" y="603.3">内容说明</text><text class="t" x="477" y="606">内容说明内容</text></g>
</g>

<g id="green-right-nodes">
<g id="q1"><rect class="g" x="563" y="421" width="13" height="4"/><text class="t" x="564" y="423.5">内容说明内容</text></g>
<g id="q2"><rect class="g" x="577" y="421" width="7" height="7"/><rect class="ic" x="579" y="423" width="3" height="3"/></g>
<g id="q3"><rect class="g" x="586" y="370" width="22" height="83"/><text class="t" x="587" y="373">内容说明</text><text class="t" x="587" y="376">内容说明内容说明</text><text class="t" x="587" y="380">内容说明内容</text><text class="t" x="587" y="386">内容说明</text><text class="t" x="587" y="389">内容说明内容说明</text><text class="t" x="587" y="394">内容说明内容</text><text class="t" x="587" y="401">内容说明</text><text class="t" x="587" y="404">内容说明内容说明</text><text class="t" x="587" y="409">内容说明内容</text><text class="t" x="587" y="416">内容说明</text><text class="t" x="587" y="419">内容说明内容说明</text><text class="t" x="587" y="424">内容说明内容</text><text class="t" x="587" y="431">内容说明内容说明</text><text class="t" x="587" y="434">内容说明</text><text class="t" x="587" y="438">内容说明内容说明</text><text class="t" x="587" y="444">内容说明内容</text><text class="t" x="587" y="448">内容说明</text></g>
<g id="q4"><rect class="g" x="610" y="432" width="19" height="9"/><text class="t" x="611" y="434.3">内容说明内容</text><rect class="ic" x="618" y="436.5" width="3" height="3"/></g>
<g id="q5"><rect class="g" x="631" y="432" width="17" height="9"/><text class="t" x="632" y="434.3">内容说明内容</text><rect class="ic" x="638" y="436.5" width="3" height="3"/></g>
<g id="q6"><rect class="g" x="563" y="453" width="21" height="18"/><text class="t" x="564" y="456">内容说明</text><text class="t" x="564" y="459">内容说明内容说明</text><text class="t" x="564" y="462">内容说明内容</text><text class="t" x="564" y="465">内容说明内容说明</text><rect class="ic" x="572" y="466.5" width="3" height="3"/></g>
<g id="q7"><rect class="g" x="586" y="458" width="10" height="9"/><text class="t" x="587" y="460.3">内容</text><rect class="ic" x="589.5" y="462" width="3" height="3"/></g>
<g id="q8"><rect class="g" x="597" y="458" width="16" height="9"/><text class="t" x="598" y="460.3">内容说明</text><rect class="ic" x="603.5" y="462" width="3" height="3"/></g>
<g id="q9"><rect class="g" x="563" y="478" width="21" height="4"/><text class="t" x="564" y="480.6">内容说明内容说明</text></g>
<g id="q10"><rect class="g" x="587" y="478" width="16" height="7"/><text class="t" x="588" y="480.3">内容说明</text><rect class="ic" x="594" y="481.5" width="2.8" height="2.8"/></g>
<g id="q11"><rect class="g" x="606" y="472" width="21" height="19"/><text class="t" x="607" y="475">内容说明内容</text><text class="t" x="607" y="478">内容说明内容说明</text><text class="t" x="607" y="481">内容说明</text><text class="t" x="607" y="484">内容说明内容</text><rect class="ic" x="615" y="486.5" width="3" height="3"/></g>
<g id="q12"><rect class="g" x="628" y="477" width="20" height="10"/><text class="t" x="629" y="479.5">内容说明内容说明</text><rect class="ic" x="636.5" y="482.5" width="3" height="3"/></g>
<g id="q13"><rect class="g" x="563" y="497" width="21" height="16"/><text class="t" x="564" y="499.5">内容说明内容说明</text><text class="t" x="564" y="502.5">内容说明</text><text class="t" x="564" y="505.5">内容说明内容</text><rect class="ic" x="572" y="508.5" width="3" height="3"/></g>
<g id="q14"><rect class="g" x="587" y="492" width="9" height="7"/><text class="t" x="588" y="494">内容</text><rect class="ic" x="590" y="495" width="3" height="3"/></g>
<g id="q15"><rect class="g" x="597" y="492" width="9" height="7"/><text class="t" x="598" y="494">内容</text><rect class="ic" x="600" y="495" width="3" height="3"/></g>
<g id="q16"><rect class="g" x="587" y="501" width="19" height="11"/><text class="t" x="588" y="503.5">内容说明内容</text><text class="t" x="588" y="506">内容说明</text><rect class="ic" x="595" y="507.5" width="3" height="3"/></g>
<g id="q17"><rect class="g" x="607" y="501" width="16" height="9"/><text class="t" x="608" y="503.3">内容说明内容</text><rect class="ic" x="613.5" y="505.5" width="3" height="3"/></g>
<g id="q18"><rect class="g" x="587" y="512" width="18" height="10"/><text class="t" x="588" y="514.5">内容说明内容</text><rect class="ic" x="594.5" y="517.5" width="3" height="3"/></g>
</g>

<g id="blue-right-nodes">
<g id="s1"><rect class="b" x="573" y="542" width="21" height="13"/><text class="t" x="574" y="544.5">内容</text><text class="t" x="574" y="547.3">内容说明内容说明</text><text class="t" x="574" y="550">内容说明</text><text class="t" x="574" y="553">内容说明内容说明</text></g>
<g id="s2"><rect class="b" x="595" y="525" width="22" height="25"/><text class="t" x="596" y="528">内容说明</text><text class="t" x="596" y="531">内容说明内容说明</text><text class="t" x="596" y="534.5">内容说明内容</text><text class="t" x="596" y="538">内容说明内容说明</text><text class="t" x="596" y="541.5">内容说明</text><rect class="ic" x="604.5" y="545" width="3" height="3"/></g>
<g id="s3"><rect class="b" x="595" y="550" width="22" height="22"/><text class="t" x="596" y="553">内容说明</text><text class="t" x="596" y="556">内容说明内容说明</text><text class="t" x="596" y="560">内容说明内容</text><text class="t" x="596" y="564">内容说明内容说明</text><text class="t" x="596" y="568">内容说明</text></g>
<g id="s4"><rect class="b" x="595" y="572" width="22" height="28"/><text class="t" x="596" y="575">内容说明内容</text><text class="t" x="596" y="578">内容说明内容说明</text><text class="t" x="596" y="582">内容说明</text><text class="t" x="596" y="586">内容说明内容说明</text><text class="t" x="596" y="590">内容说明内容</text><rect class="ic" x="604.5" y="594.5" width="3" height="3"/></g>
<g id="s5"><rect class="b" x="573" y="598" width="21" height="12"/><text class="t" x="574" y="600.5">内容说明</text><text class="t" x="574" y="603.3">内容说明内容说明</text><text class="t" x="574" y="606.3">内容说明内容</text></g>
<g id="s6"><rect class="b" x="595" y="618" width="15" height="6"/><text class="t" x="596" y="620.2">内容说明</text><rect class="ic" x="601" y="620.6" width="2.6" height="2.6"/></g>
<g id="s7"><rect class="b" x="612" y="600" width="22" height="42"/><text class="t" x="613" y="603">内容说明内容</text><text class="t" x="613" y="606">内容说明</text><text class="t" x="613" y="610">内容说明内容说明</text><text class="t" x="613" y="614">内容说明</text><text class="t" x="613" y="618">内容说明内容说明</text><text class="t" x="613" y="622">内容说明内容</text><text class="t" x="613" y="626">内容说明</text><text class="t" x="613" y="630">内容说明内容说明</text><text class="t" x="613" y="634">内容说明内容</text><text class="t" x="613" y="638">内容说明</text></g>
</g>
</svg>
